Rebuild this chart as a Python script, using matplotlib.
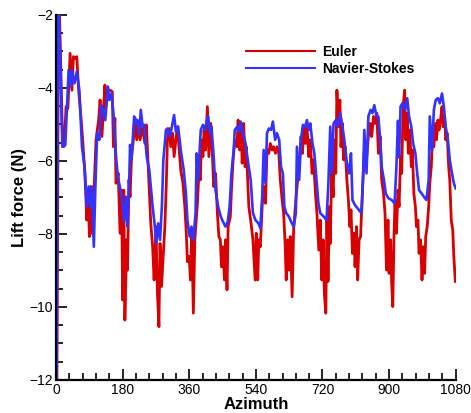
import matplotlib
matplotlib.use("Agg")
import matplotlib.pyplot as plt
from matplotlib.ticker import MultipleLocator

plt.rcParams['font.family'] = ['Liberation Sans', 'DejaVu Sans']

# Euler (red): (azimuth, lift)
euler_pts = [
    (2, -13), (7, -1), (18, -5.6), (22, -5.6), (27, -4.51), (32, -4.56), (38, -3.05), (43, -4.06),
    (47, -3.14), (52, -3.19), (56, -3.14), (61, -4.06), (68, -4.88), (72, -5.42), (78, -6.34),
    (83, -7.62), (87, -6.8), (90, -8.07), (94, -6.7), (97, -7.98), (103, -6.7), (108, -5.42),
    (115, -4.88), (119, -4.33), (124, -5.33), (132, -3.92), (135, -4.51), (141, -4.06), (146, -4.06),
    (152, -4.1), (155, -5.61), (159, -4.83), (162, -6.61), (168, -6.34), (173, -7.98), (177, -6.8),
    (180, -9.81), (183, -6.8), (186, -10.36),
    (191, -8.16), (193, -8.99), (197, -6.52), (200, -6.98), (204, -5.88), (209, -5.42), (214, -4.83),
    (218, -5.42), (223, -4.97), (227, -5.42), (234, -5.06), (240, -5.52), (244, -5.01), (249, -6.16),
    (253, -7.07), (256, -7.71), (261, -8.35), (265, -9.26), (270, -7.8), (274, -9.63), (278, -10.54),
    (281, -8.26), (285, -9.44), (290, -8.53), (294, -7.8), (298, -6.61), (301, -5.42), (306, -5.11),
    (310, -5.61), (315, -5.24), (319, -5.88), (324, -5.42), (328, -5.06), (333, -5.7), (337, -6.25),
    (343, -6.61), (348, -7.25), (352, -7.98), (355, -8.76), (360, -8.62), (363, -9.26), (367, -7.98),
    (371, -10.17),
    (375, -8.16), (380, -7.43), (382, -7.16), (386, -6.34), (390, -6.52), (393, -5.42), (397, -5.88),
    (400, -5.15), (404, -5.7), (409, -4.51), (413, -5.88), (418, -4.97), (422, -5.7), (426, -6.7),
    (431, -6.34), (436, -7.43), (440, -8.07), (444, -8.16), (447, -8.9), (451, -8.35), (455, -9.26),
    (458, -8.16), (462, -9.53), (465, -7.8), (471, -7.52), (474, -6.8), (478, -6.06), (483, -5.42),
    (489, -5.61), (492, -4.88), (496, -5.7), (500, -4.97), (503, -6.06), (507, -4.97), (511, -6.16),
    (514, -5.61), (518, -6.52), (521, -7.25), (527, -7.71), (532, -8.16), (538, -9.26), (541, -7.98),
    (545, -9.26), (548, -8.16),
    (552, -8.35), (557, -7.25), (561, -6.7), (566, -7.16), (570, -5.7), (575, -5.79), (579, -5.52),
    (584, -5.7), (588, -5.61), (593, -5.79), (597, -5.61), (602, -5.79), (606, -6.52), (611, -7.07),
    (615, -7.43), (619, -8.26), (622, -9.26), (626, -8.16), (630, -8.99), (633, -8.07), (638, -9.72),
    (642, -7.89), (648, -7.07), (653, -6.52), (657, -6.16), (662, -5.33), (666, -5.79), (669, -5.06),
    (674, -5.52), (678, -5.06), (683, -5.88), (687, -5.42), (692, -6.34), (696, -5.97), (701, -6.89),
    (705, -7.43), (710, -8.44), (714, -7.62), (718, -9.26), (722, -8.16), (725, -9.63), (729, -10.17),
    (732, -7.62),
    (735, -9.3), (739, -7.25), (741, -8.26), (745, -6.16), (749, -6.98), (752, -5.42), (756, -6.34),
    (759, -4.06), (763, -5.06), (767, -4.33), (770, -5.61), (774, -4.97), (777, -5.97), (781, -5.61),
    (786, -6.52), (790, -7.07), (794, -7.8), (797, -7.34), (801, -8.53), (805, -7.98), (808, -8.9),
    (812, -7.8), (815, -9.26), (819, -8.16), (823, -8.07), (826, -7.25), (830, -6.34), (833, -5.7),
    (839, -5.97), (844, -5.33), (849, -4.97), (853, -5.33), (858, -4.78), (862, -4.97), (867, -4.69),
    (871, -5.79), (876, -5.33), (880, -6.52), (885, -6.89), (889, -7.43), (893, -8.99), (897, -7.62),
    (900, -9.08), (904, -8.16), (907, -9.35), (910, -9.99), (913, -8.16), (916, -7.07),
    (920, -7.98), (924, -6.8), (927, -7.25), (931, -5.88), (934, -6.34), (938, -4.51), (942, -4.06),
    (945, -5.42), (949, -4.69), (952, -5.79), (956, -5.15), (960, -6.16), (963, -5.7), (967, -6.89),
    (971, -7.25), (974, -7.8), (978, -7.62), (981, -8.53), (985, -8.16), (989, -9.26), (992, -8.35),
    (996, -9.08), (999, -8.07), (1003, -7.8), (1007, -7.25), (1010, -6.61), (1014, -6.16), (1017, -5.42),
    (1021, -5.61), (1025, -4.97), (1028, -5.42), (1032, -4.88), (1035, -5.15), (1039, -4.88),
    (1043, -4.51), (1046, -5.06), (1050, -4.78), (1053, -5.42), (1057, -5.24), (1061, -6.16),
    (1064, -6.52), (1068, -7.62), (1072, -7.89), (1075, -8.62), (1079, -9.3),
]

# Navier-Stokes (blue)
ns_pts = [
    (1, -13), (6, -1), (17, -5.61), (25, -5.56), (34, -3.51), (41, -3.96), (43, -3.51), (50, -3.87),
    (56, -3.55), (63, -4.06), (70, -5.61), (77, -6.16), (83, -7.25), (88, -6.7), (93, -7.25), (97, -6.7),
    (102, -8.35), (106, -6.8), (111, -5.24), (117, -5.42), (122, -4.47), (126, -4.6), (133, -4.88),
    (140, -3.96), (144, -4.33), (150, -4.15), (155, -4.69), (162, -5.88), (167, -6.43), (176, -6.89),
    (184, -7.66), (189, -6.98), (193, -7.8), (198, -6.43), (200, -5.56), (204, -5.97), (211, -4.78),
    (216, -4.97), (220, -4.88), (225, -5.29), (229, -4.6), (234, -5.06), (238, -5.01), (245, -5.88),
    (252, -6.25), (256, -6.7), (261, -7.25), (267, -7.8), (271, -8.26), (276, -7.71), (281, -8.16),
    (286, -7.25), (290, -5.97), (297, -5.15), (301, -5.11), (308, -5.33), (313, -5.06), (319, -4.74),
    (324, -5.2), (330, -5.06), (337, -5.7), (345, -6.25), (351, -6.89), (355, -7.62), (361, -8.07),
    (366, -7.8),
    (371, -8.16), (377, -7.43), (380, -5.79), (384, -6.52), (391, -5.15), (397, -5.01), (402, -5.15),
    (408, -4.88), (411, -4.78), (416, -5.24), (420, -5.06), (426, -5.88), (431, -6.8), (438, -7.25),
    (445, -7.52), (451, -7.66), (458, -7.8), (464, -7.66), (469, -7.25), (474, -6.34), (480, -5.7),
    (483, -5.15), (490, -5.06), (494, -5.2), (499, -4.92), (503, -5.15), (508, -5.33), (512, -5.52),
    (520, -6.11), (526, -6.52), (532, -7.43), (539, -7.62), (547, -7.71),
    (552, -7.84), (557, -6.98), (561, -5.7), (566, -6.61), (570, -5.24), (575, -5.11), (581, -5.15),
    (586, -4.92), (592, -5.42), (597, -5.24), (603, -5.42), (608, -6.16), (613, -6.34), (617, -7.25),
    (622, -7.43), (629, -7.52), (635, -7.66), (642, -7.8), (648, -7.43), (651, -5.61), (657, -6.52),
    (662, -5.42), (667, -5.01), (673, -5.06), (678, -4.88), (683, -5.15), (687, -4.97), (693, -5.52),
    (698, -5.79), (704, -6.52), (709, -7.16), (714, -7.43), (723, -7.52), (731, -7.62),
    (736, -6.61), (741, -5.06), (745, -6.34), (750, -4.97), (756, -4.88), (761, -5.06), (768, -4.69),
    (774, -5.06), (779, -5.42), (786, -6.06), (792, -6.34), (797, -5.79), (801, -7.07), (808, -7.21),
    (815, -7.3), (822, -7.39), (826, -7.43), (830, -6.34), (833, -5.15), (839, -6.34), (844, -4.78),
    (850, -4.6), (855, -4.69), (860, -4.47), (866, -4.78), (871, -4.78), (876, -5.42), (880, -6.16),
    (886, -6.52), (891, -6.89), (898, -7.02), (907, -7.07), (915, -7.16),
    (920, -6.1), (924, -4.9), (927, -5.9), (931, -4.51), (936, -4.42), (943, -4.6), (949, -4.28),
    (954, -4.78), (960, -5.06), (965, -5.52), (971, -5.79), (976, -6.34), (981, -6.8), (988, -6.89),
    (994, -6.98), (1001, -7.07), (1007, -6.52), (1010, -4.78), (1016, -5.7), (1021, -4.6), (1026, -4.33),
    (1032, -4.28), (1037, -4.42), (1043, -4.15), (1048, -4.51), (1053, -5.06), (1059, -5.42),
    (1064, -5.97), (1070, -6.34), (1075, -6.61), (1080, -6.75),
]

euler_az, euler_lift = zip(*euler_pts)
ns_az, ns_lift = zip(*ns_pts)

fig = plt.figure(figsize=(4.71, 4.13), dpi=100)
ax = fig.add_axes([0.119, 0.080, 0.8485, 0.8837])

ax.plot(euler_az, euler_lift, color='#d80000', lw=2.0, label='Euler')
ax.plot(ns_az, ns_lift, color='#3333ff', lw=1.9, label='Navier-Stokes')

ax.set_xlim(0, 1080)
ax.set_ylim(-12, -2)
ax.xaxis.set_major_locator(MultipleLocator(180))
ax.xaxis.set_minor_locator(MultipleLocator(36))
ax.yaxis.set_major_locator(MultipleLocator(2))
ax.yaxis.set_minor_locator(MultipleLocator(0.5))

for s in ['top', 'right']:
    ax.spines[s].set_visible(False)
for s in ['left', 'bottom']:
    ax.spines[s].set_linewidth(1.6)

ax.tick_params(which='both', direction='in', labelsize=10, width=1.2, pad=2)
ax.tick_params(which='major', length=8)
ax.tick_params(which='minor', length=5)

ax.set_xlabel('Azimuth', fontsize=12, fontweight='bold', labelpad=0)
ax.set_ylabel('Lift force (N)', fontsize=12, fontweight='bold', labelpad=2)

leg = ax.legend(loc='upper left', bbox_to_anchor=(0.475, 0.918), frameon=False,
                prop={'weight': 'bold', 'size': 10}, handlelength=5.0, handletextpad=0.5,
                labelspacing=0.2, borderpad=0, borderaxespad=0)
for h in leg.get_lines():
    h.set_linewidth(1.5)

fig.savefig('out.png', dpi=100)
